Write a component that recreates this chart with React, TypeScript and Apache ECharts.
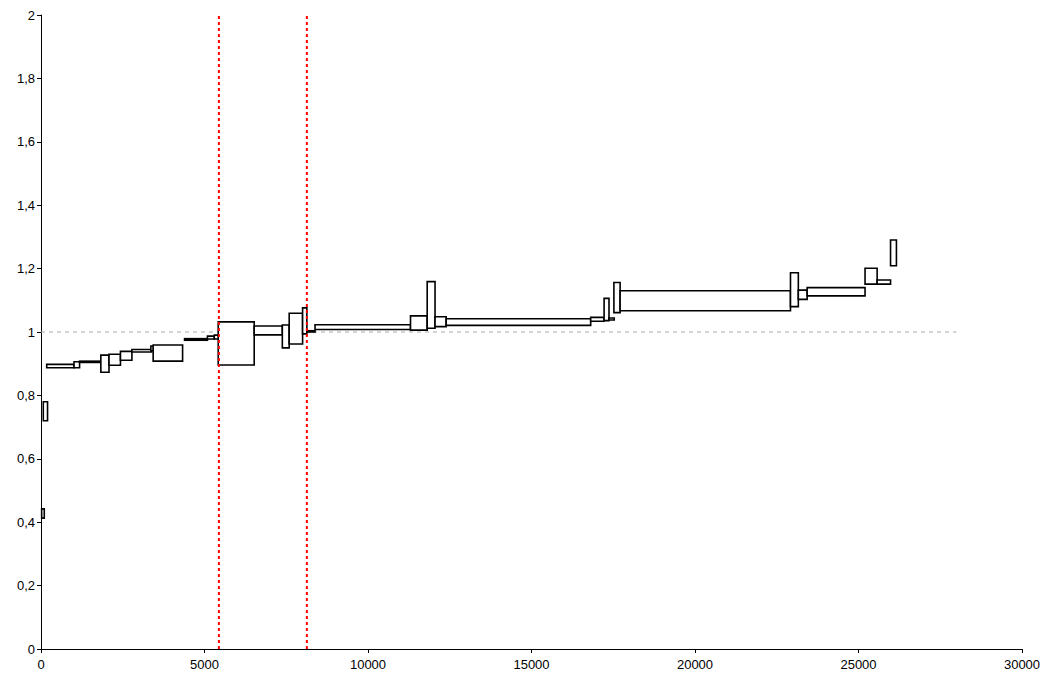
import React, { useEffect, useRef } from "react";
import * as echarts from "echarts";

// Each box spans [xFrom, xTo] horizontally and [yLow, yHigh] vertically.
const xFrom = [20, 70, 175, 1010, 1180, 1830, 2080, 2430, 2780, 3360, 3430, 4390, 5090, 5300, 5420, 6520, 7380, 7590, 8000, 8130, 8380, 11300, 11810, 12050, 12390, 16810, 17220, 17370, 17520, 17710, 22920, 23160, 23430, 25200, 25570, 25980];
const xTo = [100, 200, 1010, 1180, 1830, 2080, 2430, 2780, 3380, 3440, 4330, 5090, 5300, 5430, 6520, 7380, 7590, 8000, 8130, 8380, 11300, 11810, 12050, 12390, 16810, 17220, 17370, 17530, 17710, 22920, 23160, 23430, 25200, 25570, 25980, 26160];
const yLow = [0.413, 0.72, 0.887, 0.887, 0.904, 0.873, 0.895, 0.911, 0.937, 0.941, 0.908, 0.974, 0.978, 0.978, 0.896, 0.991, 0.95, 0.962, 0.994, 1.0, 1.008, 1.006, 1.012, 1.017, 1.021, 1.034, 1.036, 1.038, 1.061, 1.067, 1.08, 1.103, 1.114, 1.151, 1.151, 1.209];
const yHigh = [0.442, 0.78, 0.898, 0.906, 0.908, 0.927, 0.93, 0.939, 0.945, 0.956, 0.959, 0.979, 0.987, 0.99, 1.032, 1.019, 1.022, 1.059, 1.076, 1.004, 1.023, 1.051, 1.159, 1.048, 1.042, 1.046, 1.106, 1.044, 1.156, 1.13, 1.187, 1.132, 1.14, 1.201, 1.164, 1.29];

// Vertical markers and the horizontal reference level
const markerX = [5440, 8130];
const referenceY = 1;
const referenceEndX = 28000;

const xMin = 0;
const xMax = 30000;
const xStep = 5000;
const yMin = 0;
const yMax = 2;
const yStep = 0.2;

export default function App() {
  const ref = useRef<HTMLDivElement>(null);

  useEffect(() => {
    if (!ref.current) return;
    const chart = echarts.init(ref.current, undefined, { renderer: "svg" });

    const boxes = xFrom.map((x0, i) => [x0, xTo[i], yLow[i], yHigh[i]]);

    const labelStyle = {
      color: "#000",
      fontFamily: "Liberation Sans, Arial, sans-serif",
      fontSize: 13,
    };

    chart.setOption({
      animation: false,
      backgroundColor: "#fff",
      grid: { left: 33, right: 24, top: 7, bottom: 24, containLabel: false },
      xAxis: {
        type: "value",
        min: xMin,
        max: xMax,
        interval: xStep,
        axisLine: { show: true, onZero: false, lineStyle: { color: "#000", width: 1 } },
        axisTick: { show: true, length: 4, lineStyle: { color: "#000" } },
        axisLabel: { ...labelStyle, margin: 9, formatter: (v: number) => String(v) },
        splitLine: { show: false },
      },
      yAxis: {
        type: "value",
        min: yMin,
        max: yMax,
        interval: yStep,
        axisLine: { show: true, lineStyle: { color: "#000", width: 1 } },
        axisTick: { show: true, length: 4, lineStyle: { color: "#000" } },
        axisLabel: {
          ...labelStyle,
          margin: 6,
          formatter: (v: number) => String(Math.round(v * 10) / 10).replace(".", ","),
        },
        splitLine: { show: false },
      },
      series: [
        {
          type: "line",
          data: [
            [0, referenceY],
            [referenceEndX, referenceY],
          ],
          symbol: "none",
          silent: true,
          lineStyle: { color: "#aaaaaa", width: 1, type: [4, 4] },
          z: 1,
        },
        {
          type: "custom",
          data: boxes,
          encode: { x: [0, 1], y: [2, 3] },
          z: 2,
          renderItem: (params: any, api: any) => {
            const p0 = api.coord([api.value(0), api.value(3)]);
            const p1 = api.coord([api.value(1), api.value(2)]);
            return {
              type: "rect",
              shape: {
                x: p0[0],
                y: p0[1],
                width: p1[0] - p0[0],
                height: p1[1] - p0[1],
              },
              style: { fill: "#fff", stroke: "#000", lineWidth: 1.6 },
            };
          },
        },
        ...markerX.map((mx) => ({
          type: "line",
          data: [
            [mx, yMin],
            [mx, yMax],
          ],
          symbol: "none",
          silent: true,
          lineStyle: { color: "#ff0000", width: 2, type: [3, 3] },
          z: 3,
        })),
      ],
    });

    return () => chart.dispose();
  }, []);

  return <div ref={ref} style={{ width: 1038, height: 665 }} />;
}
